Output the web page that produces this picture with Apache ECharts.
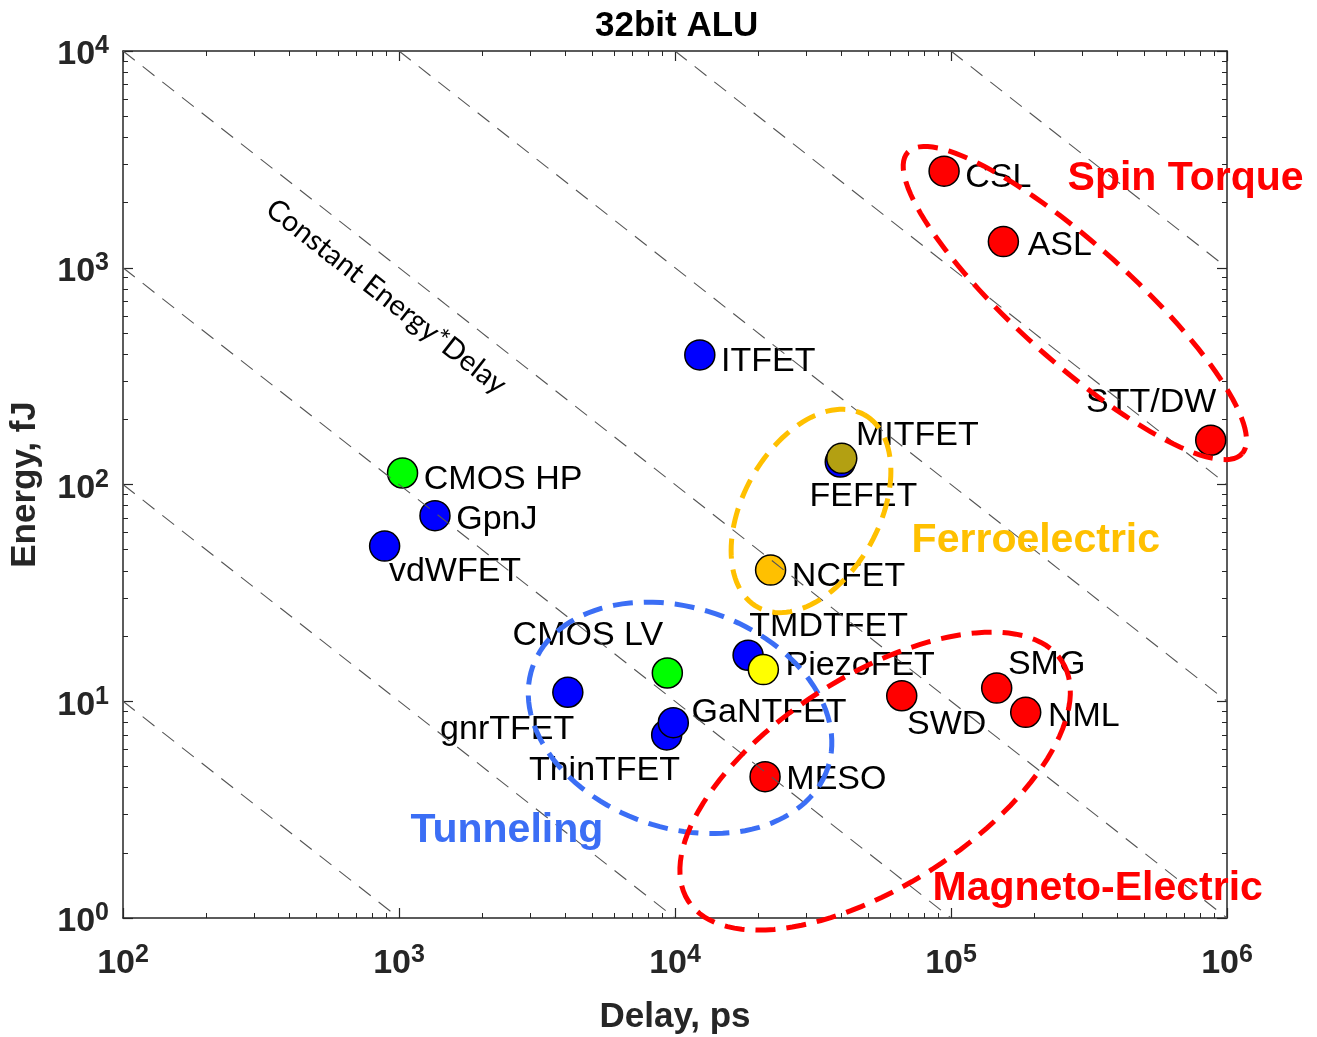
<!DOCTYPE html>
<html>
<head>
<meta charset="utf-8">
<title>32bit ALU</title>
<script src="https://cdn.jsdelivr.net/npm/echarts@6/dist/echarts.min.js"></script>
<style>
  html, body { margin: 0; padding: 0; background: #ffffff; }
  #chart { width: 1317px; height: 1037px; }
</style>
</head>
<body>
<div id="chart"></div>
<script>
// ---- benchmark data: 32-bit ALU, delay (ps) vs energy (fJ) ----
const deviceNames = ['CSL', 'ASL', 'STT/DW', 'ITFET', 'FEFET', 'MITFET', 'NCFET', 'TMDTFET', 'PiezoFET',
  'MESO', 'SWD', 'SMG', 'NML', 'CMOS HP', 'GpnJ', 'vdWFET', 'gnrTFET', 'CMOS LV', 'ThinTFET', 'GaNTFET'];
const delayPs = [94400, 154800, 873000, 12300, 39700, 40200, 22200, 18400, 20900,
  21200, 66300, 146400, 186500, 1030, 1350, 887, 4090, 9380, 9330, 9860];
const energyFj = [2790, 1320, 160, 396, 127, 132, 40.3, 16.3, 14.0,
  4.49, 10.6, 11.5, 8.89, 113, 71.8, 52, 11.0, 13.5, 6.99, 7.96];
const deviceFamily = ['spin', 'spin', 'spin', 'fet', 'fet', 'mit', 'ncfet', 'fet', 'piezo',
  'me', 'me', 'me', 'me', 'cmos', 'fet', 'fet', 'fet', 'cmos', 'fet', 'fet'];

// constant energy*delay guide lines (fJ*ps)
const edProducts = [1e3, 1e4, 1e5, 1e6, 1e7, 1e8, 1e9];

// axis decades (exponents of 10)
const delayExponents = [2, 3, 4, 5, 6];
const energyExponents = [0, 1, 2, 3, 4];

// device groups, with the centre of each group outline (delay ps, energy fJ)
const groupNames = ['Spin Torque', 'Ferroelectric', 'Tunneling', 'Magneto-Electric'];
const groupCenterDelay = [281000, 31100, 10430, 53100];
const groupCenterEnergy = [687, 75.5, 8.38, 4.28];
// where each group caption starts (delay ps, energy fJ)
const groupLabelDelay = [265500, 72300, 1105, 86100];
const groupLabelEnergy = [2565, 54.8, 2.52, 1.36];

// ---- styling ----
const FONT = '"Liberation Sans", Arial, Helvetica, sans-serif';
const AXIS_COLOR = '#262626';
const familyColor = {
  spin: '#ff0000', me: '#ff0000', fet: '#0000ff', cmos: '#00ff00',
  piezo: '#ffff00', ncfet: '#ffc000', mit: '#b3a012'
};
const groupColor = ['#ff0000', '#ffc000', '#3b6ef5', '#ff0000'];
// group outline: semi-axes in px and tilt in degrees (screen, clockwise)
const groupOutline = [
  { rx: 225, ry: 58, angle: 42 },
  { rx: 110, ry: 68, angle: -61 },
  { rx: 156, ry: 110, angle: 19 },
  { rx: 222, ry: 105, angle: -32.7 }
];
// label offset of each device name from its marker centre (px)
const labelOffset = {
  'CSL': [22, 7], 'ASL': [25, 5], 'STT/DW': [-124, -37], 'ITFET': [22, 7],
  'FEFET': [-30, 35], 'MITFET': [15, -22], 'NCFET': [22, 7], 'TMDTFET': [2, -28],
  'PiezoFET': [23, -3], 'MESO': [22, 4], 'SWD': [6, 30], 'SMG': [12, -23],
  'NML': [23, 5], 'CMOS HP': [22, 7], 'GpnJ': [22, 5], 'vdWFET': [5, 26],
  'gnrTFET': [-127, 38], 'CMOS LV': [-154, -37], 'ThinTFET': [-137, 36], 'GaNTFET': [19, -9]
};
const MARKER = 30;

const DELAY_MIN = Math.pow(10, delayExponents[0]);
const DELAY_MAX = Math.pow(10, delayExponents[delayExponents.length - 1]);
const ENERGY_MIN = Math.pow(10, energyExponents[0]);
const ENERGY_MAX = Math.pow(10, energyExponents[energyExponents.length - 1]);

const powerLabel = v => '{b|10}{s|' + Math.round(Math.log10(v)) + '}';
const tickRich = {
  b: { fontSize: 34, fontWeight: 'bold', color: AXIS_COLOR, fontFamily: FONT, lineHeight: 34, padding: [8, 0, 0, 0] },
  s: { fontSize: 25, fontWeight: 'bold', color: AXIS_COLOR, fontFamily: FONT, lineHeight: 25, verticalAlign: 'top' }
};

function logAxis(extra) {
  return Object.assign({
    type: 'log',
    logBase: 10,
    splitNumber: 4,
    axisLine: { show: true, onZero: false, lineStyle: { color: AXIS_COLOR, width: 1.5 } },
    axisTick: { show: true, inside: true, length: 10, lineStyle: { color: AXIS_COLOR, width: 1.2 } },
    minorTick: { show: true, splitNumber: 9, length: 5, lineStyle: { color: AXIS_COLOR, width: 1 } },
    splitLine: { show: false },
    minorSplitLine: { show: false }
  }, extra);
}

const tickLabel = (margin) => ({
  formatter: powerLabel, rich: tickRich, margin: margin,
  fontSize: 34, fontWeight: 'bold', color: AXIS_COLOR, fontFamily: FONT
});

const nameStyle = { fontSize: 35, fontWeight: 'bold', color: AXIS_COLOR, fontFamily: FONT };

// ---- series ----
const edLineSeries = edProducts.map(p => {
  const x0 = Math.max(DELAY_MIN, p / ENERGY_MAX);
  const x1 = Math.min(DELAY_MAX, p / ENERGY_MIN);
  return {
    type: 'line',
    data: [[x0, p / x0], [x1, p / x1]],
    symbol: 'none',
    silent: true,
    z: 5,
    lineStyle: { color: '#555555', width: 1.1, type: [15, 10] }
  };
});

const deviceSeries = {
  type: 'scatter',
  symbolSize: MARKER,
  z: 3,
  data: deviceNames.map((n, i) => ({
    name: n,
    value: [delayPs[i], energyFj[i]],
    itemStyle: { color: familyColor[deviceFamily[i]], borderColor: '#000', borderWidth: 1.5, opacity: 1 },
    label: {
      show: true,
      formatter: '{b}',
      position: [MARKER / 2 + labelOffset[n][0], MARKER / 2 + labelOffset[n][1]],
      align: 'left',
      verticalAlign: 'middle',
      color: '#000',
      fontSize: 34,
      fontFamily: FONT
    }
  }))
};

const outlineSeries = {
  type: 'custom',
  z: 10,
  silent: true,
  clip: false,
  data: groupNames.map((g, i) => [groupCenterDelay[i], groupCenterEnergy[i]]),
  renderItem: function (params, api) {
    const c = api.coord([api.value(0), api.value(1)]);
    const o = groupOutline[params.dataIndex];
    const a = o.angle * Math.PI / 180;
    const ca = Math.cos(a), sa = Math.sin(a);
    const pts = [];
    const n = 120;
    for (let k = 0; k <= n; k++) {
      const t = k / n * Math.PI * 2;
      const ex = o.rx * Math.cos(t), ey = o.ry * Math.sin(t);
      pts.push([c[0] + ex * ca - ey * sa, c[1] + ex * sa + ey * ca]);
    }
    return {
      type: 'polyline',
      shape: { points: pts },
      style: { fill: null, stroke: groupColor[params.dataIndex], lineWidth: 5, lineDash: [20, 11] }
    };
  }
};

const groupLabelSeries = {
  type: 'scatter',
  symbolSize: 1,
  z: 12,
  silent: true,
  itemStyle: { color: 'rgba(0,0,0,0)', opacity: 1 },
  data: groupNames.map((g, i) => ({
    name: g,
    value: [groupLabelDelay[i], groupLabelEnergy[i]],
    itemStyle: { color: 'rgba(0,0,0,0)', opacity: 1 },
    label: {
      show: true,
      formatter: '{b}',
      position: [0, 0],
      align: 'left',
      verticalAlign: 'middle',
      color: groupColor[i],
      opacity: 1,
      fontSize: 41,
      fontWeight: 'bold',
      fontFamily: FONT
    }
  }))
};

// caption running along the constant energy*delay lines
const guideCaptionSeries = {
  type: 'custom',
  z: 11,
  silent: true,
  clip: false,
  data: [[900, 735]],
  renderItem: function (params, api) {
    const c = api.coord([api.value(0), api.value(1)]);
    const p0 = api.coord([100, 1e4]);
    const p1 = api.coord([1e6, 1]);
    const ang = Math.atan2(p1[1] - p0[1], p1[0] - p0[0]);
    return {
      type: 'text',
      x: c[0],
      y: c[1],
      rotation: -ang,
      style: {
        text: 'Constant Energy*Delay',
        fontSize: 29,
        fontFamily: 'Lato, "Open Sans", sans-serif',
        fill: '#000',
        align: 'center',
        verticalAlign: 'middle'
      }
    };
  }
};

const option = {
  backgroundColor: '#ffffff',
  animation: false,
  title: {
    text: '32bit ALU',
    left: 590,
    top: 4,
    textStyle: { fontSize: 35, fontWeight: 'bold', color: '#000', fontFamily: FONT }
  },
  grid: { left: 123, right: 90, top: 51, bottom: 119, containLabel: false, outerBoundsMode: 'none' },
  xAxis: [
    logAxis({
      min: DELAY_MIN, max: DELAY_MAX, position: 'bottom',
      axisLabel: tickLabel(25),
      name: 'Delay, ps', nameLocation: 'middle', nameGap: 82, nameTextStyle: nameStyle
    }),
    logAxis({ min: DELAY_MIN, max: DELAY_MAX, position: 'top', axisLabel: { show: false } })
  ],
  yAxis: [
    logAxis({
      min: ENERGY_MIN, max: ENERGY_MAX, position: 'left',
      axisLabel: tickLabel(14),
      name: 'Energy, fJ', nameLocation: 'middle', nameGap: 80, nameTextStyle: nameStyle
    }),
    logAxis({ min: ENERGY_MIN, max: ENERGY_MAX, position: 'right', axisLabel: { show: false } })
  ],
  series: [deviceSeries].concat(edLineSeries, [outlineSeries, groupLabelSeries, guideCaptionSeries])
};

const chart = echarts.init(document.getElementById('chart'), null, { renderer: 'canvas' });
chart.setOption(option);
</script>
</body>
</html>
